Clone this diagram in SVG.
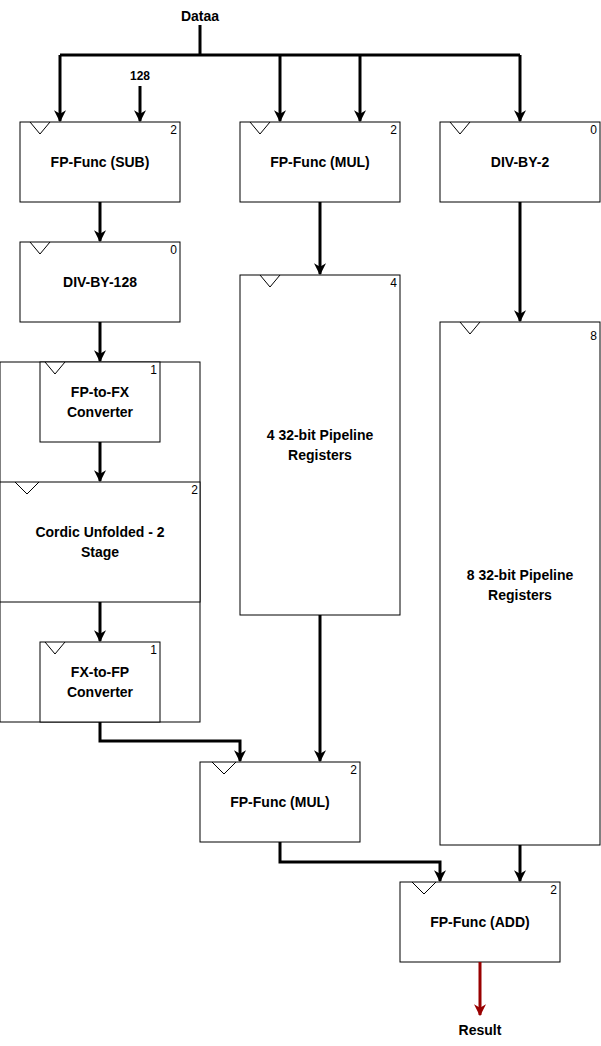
<svg xmlns="http://www.w3.org/2000/svg" width="601" height="1046" viewBox="0 0 601 1046">
<style>
text{font-family:"Liberation Sans",Arial,sans-serif;}
.b{fill:#fff;stroke:#000;stroke-width:1}
.l{font-size:14px;font-weight:bold;text-anchor:middle}
.n{font-size:12px;text-anchor:end}
.t{fill:none;stroke:#000;stroke-width:1}
.c{fill:none;stroke:#000;stroke-width:3}
</style>
<defs>
<marker id="a" viewBox="0 0 10 10" refX="9" refY="5" markerWidth="4" markerHeight="4" orient="auto"><path d="M0,0L10,5L0,10L3,5Z" fill="#000"/></marker>
<marker id="r" viewBox="0 0 10 10" refX="9" refY="5" markerWidth="4" markerHeight="4" orient="auto"><path d="M0,0L10,5L0,10L3,5Z" fill="#990000"/></marker>
</defs>
<g id="container"><rect x="0" y="362" width="200" height="360" class="b"/></g>
<g id="sub"><rect x="20" y="122" width="160" height="80" class="b"/><path d="M30,122L40,134L50,122" class="t"/><text x="177" y="134" class="n">2</text><text x="100" y="167" class="l">FP-Func (SUB)</text></g>
<g id="mul1"><rect x="240" y="122" width="160" height="80" class="b"/><path d="M250,122L260,134L270,122" class="t"/><text x="397" y="134" class="n">2</text><text x="320" y="167" class="l">FP-Func (MUL)</text></g>
<g id="div2"><rect x="440" y="122" width="160" height="80" class="b"/><path d="M450,122L460,134L470,122" class="t"/><text x="597" y="134" class="n">0</text><text x="520" y="167" class="l">DIV-BY-2</text></g>
<g id="div128"><rect x="20" y="242" width="160" height="80" class="b"/><path d="M30,242L40,254L50,242" class="t"/><text x="177" y="254" class="n">0</text><text x="100" y="287" class="l">DIV-BY-128</text></g>
<g id="fp2fx"><rect x="40" y="362" width="120" height="80" class="b"/><path d="M45,362L55,374L65,362" class="t"/><text x="157" y="374" class="n">1</text><text x="100" y="397" class="l">FP-to-FX</text><text x="100" y="417" class="l">Converter</text></g>
<g id="cordic"><rect x="0" y="482" width="200" height="120" class="b"/><path d="M15,482L27,494L39,482" class="t"/><text x="198" y="494" class="n">2</text><text x="100" y="537" class="l">Cordic Unfolded -  2</text><text x="100" y="557" class="l">Stage</text></g>
<g id="fx2fp"><rect x="40" y="642" width="120" height="80" class="b"/><path d="M45,642L55,654L65,642" class="t"/><text x="157" y="654" class="n">1</text><text x="100" y="677" class="l">FX-to-FP</text><text x="100" y="697" class="l">Converter</text></g>
<g id="reg4"><rect x="240" y="275" width="160" height="340" class="b"/><path d="M260,275L270,287L280,275" class="t"/><text x="397" y="287" class="n">4</text><text x="320" y="440" class="l">4 32-bit Pipeline</text><text x="320" y="460" class="l">Registers</text></g>
<g id="reg8"><rect x="440" y="322" width="160" height="523" class="b"/><path d="M460,322L470,334L480,322" class="t"/><text x="597" y="340" class="n">8</text><text x="520" y="580" class="l">8 32-bit Pipeline</text><text x="520" y="600" class="l">Registers</text></g>
<g id="mul2"><rect x="200" y="762" width="160" height="80" class="b"/><path d="M212,762L224,774L236,762" class="t"/><text x="357" y="774" class="n">2</text><text x="280" y="807" class="l">FP-Func (MUL)</text></g>
<g id="add"><rect x="400" y="882" width="160" height="80" class="b"/><path d="M412,882L424,894L436,882" class="t"/><text x="557" y="894" class="n">2</text><text x="480" y="927" class="l">FP-Func (ADD)</text></g>
<text x="200" y="21" class="l">Dataa</text>
<text x="140" y="80" class="l" style="font-size:12px">128</text>
<text x="480" y="1035" class="l">Result</text>
<g id="connectors">
<path d="M200,25V55M60,55H520" class="c"/>
<path d="M60,55V121" class="c" marker-end="url(#a)"/>
<path d="M280,55V121" class="c" marker-end="url(#a)"/>
<path d="M360,55V121" class="c" marker-end="url(#a)"/>
<path d="M520,55V121" class="c" marker-end="url(#a)"/>
<path d="M140,86V121" class="c" marker-end="url(#a)"/>
<path d="M100,202V241" class="c" marker-end="url(#a)"/>
<path d="M100,322V361" class="c" marker-end="url(#a)"/>
<path d="M100,442V481" class="c" marker-end="url(#a)"/>
<path d="M100,602V641" class="c" marker-end="url(#a)"/>
<path d="M100,722V741H240V761" class="c" marker-end="url(#a)"/>
<path d="M320,202V274" class="c" marker-end="url(#a)"/>
<path d="M520,202V321" class="c" marker-end="url(#a)"/>
<path d="M320,615V761" class="c" marker-end="url(#a)"/>
<path d="M280,842V862H440V881" class="c" marker-end="url(#a)"/>
<path d="M520,845V881" class="c" marker-end="url(#a)"/>
<path d="M480,962V1015" fill="none" stroke="#990000" stroke-width="3" marker-end="url(#r)"/>
</g>
</svg>
